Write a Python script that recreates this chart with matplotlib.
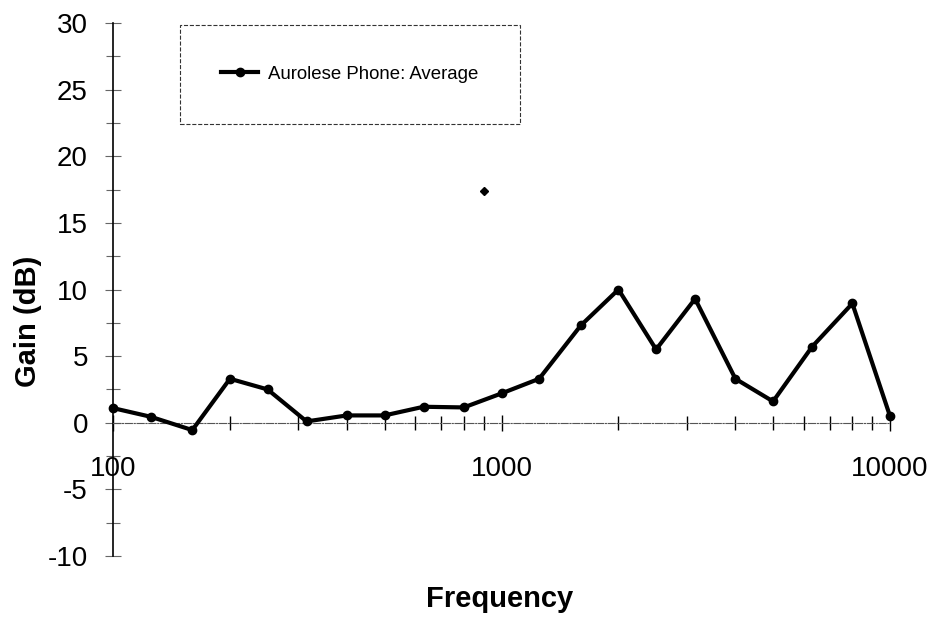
import numpy as np
import matplotlib.pyplot as plt
from matplotlib.ticker import LogLocator, MultipleLocator, NullFormatter

plt.rcParams['font.family'] = ['Liberation Sans', 'DejaVu Sans']
plt.rcParams['axes.unicode_minus'] = False

# Data (1/3 octave bands)
freq = [100, 125, 160, 200, 250, 315, 400, 500, 630, 800, 1000,
        1250, 1600, 2000, 2500, 3150, 4000, 5000, 6300, 8000, 10000]
gain = [1.1, 0.45, -0.55, 3.3, 2.5, 0.1, 0.55, 0.55, 1.2, 1.15, 2.2,
        3.3, 7.3, 10.0, 5.5, 9.3, 3.3, 1.6, 5.7, 8.95, 0.5]
# stray point on the page
stray_freq = [902]
stray_gain = [17.4]

series_name = 'Aurolese Phone: Average'
x_ticks = [100, 1000, 10000]
x_tick_labels = ['100', '1000', '10000']


def main():
    fig = plt.figure(figsize=(9.34, 6.21), dpi=100)
    ax = fig.add_axes([113/934, 1 - 556/621, 777/934, 533/621])

    ax.plot(freq, gain, color='black', linewidth=3.0, marker='o',
            markersize=6, label=series_name, clip_on=False, zorder=3)
    ax.plot(stray_freq, stray_gain, linestyle='none', marker='D',
            markersize=4.5, color='black')

    ax.set_xscale('log')
    ax.set_xlim(100, 10000)
    ax.set_ylim(-10, 30)

    # axes look
    ax.spines['top'].set_visible(False)
    ax.spines['right'].set_visible(False)
    ax.spines['left'].set_linewidth(1.2)
    ax.spines['bottom'].set_position(('data', 0))
    ax.spines['bottom'].set_linestyle('-.')
    ax.spines['bottom'].set_linewidth(0.8)
    ax.spines['bottom'].set_color('#555555')

    ax.set_xticks(x_ticks)
    ax.set_xticklabels(x_tick_labels)
    ax.xaxis.set_minor_locator(LogLocator(base=10, subs=np.arange(2, 10)))
    ax.xaxis.set_minor_formatter(NullFormatter())
    ax.tick_params(axis='x', which='major', direction='inout', length=12,
                   width=1.0, color='black', labelsize=20, pad=18)
    ax.tick_params(axis='x', which='minor', direction='inout', length=10,
                   width=1.0, color='black')

    ax.yaxis.set_major_locator(MultipleLocator(5))
    ax.yaxis.set_minor_locator(MultipleLocator(2.5))
    ax.tick_params(axis='y', which='major', direction='inout', length=12,
                   width=0.8, color='#666666', labelsize=20, pad=12)
    ax.tick_params(axis='y', which='minor', direction='inout', length=10,
                   width=0.8, color='#666666')

    ax.set_ylabel('Gain (dB)', fontsize=21, fontweight='bold')
    ax.yaxis.set_label_coords(-0.091, 0.44)
    ax.set_xlabel('Frequency', fontsize=21, fontweight='bold')
    ax.xaxis.set_label_coords(0.498, -0.055)

    leg = ax.legend(loc='upper left', bbox_to_anchor=(180/934, 1 - 25/621),
                    bbox_transform=fig.transFigure, fontsize=13.4,
                    borderpad=2.2, borderaxespad=0, handlelength=2.0,
                    handletextpad=0.55, fancybox=False, framealpha=1)
    frame = leg.get_frame()
    frame.set_edgecolor('#333333')
    frame.set_linewidth(0.8)
    frame.set_linestyle('--')

    fig.savefig('out.png', dpi=100)


main()
